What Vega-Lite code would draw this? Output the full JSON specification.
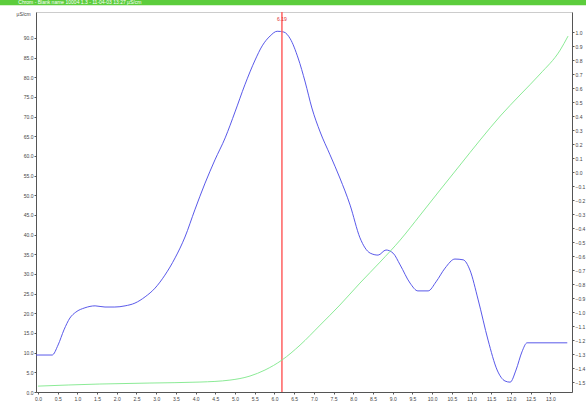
{
  "$schema": "https://vega.github.io/schema/vega-lite/v6.json",
  "width": 536,
  "height": 380,
  "autosize": {"type": "none"},
  "padding": {"left": 36, "top": 12, "right": 14, "bottom": 11},
  "background": "white",
  "config": {
    "view": {"stroke": "#cccccc", "strokeWidth": 1},
    "font": "Liberation Sans",
    "axis": {"labelFontSize": 5, "labelColor": "#444444", "domainColor": "#555555", "tickColor": "#555555", "tickSize": 2, "grid": false, "labelPadding": 1, "labelFont": "Liberation Sans", "labelOverlap": false}
  },
  "datasets": {
    "blue": [
      {"t": -0.05, "v": 9.4}, {"t": 0.36, "v": 9.4}, {"t": 0.51, "v": 11.95}, {"t": 0.66, "v": 15.8},
      {"t": 0.81, "v": 18.8}, {"t": 0.96, "v": 20.3}, {"t": 1.19, "v": 21.4}, {"t": 1.45, "v": 21.9},
      {"t": 1.70, "v": 21.6}, {"t": 1.95, "v": 21.6}, {"t": 2.21, "v": 21.9}, {"t": 2.46, "v": 22.6},
      {"t": 2.72, "v": 24.2}, {"t": 2.97, "v": 26.4}, {"t": 3.22, "v": 29.7}, {"t": 3.48, "v": 34.1},
      {"t": 3.73, "v": 39.4}, {"t": 3.98, "v": 46.3}, {"t": 4.24, "v": 53.1}, {"t": 4.49, "v": 59.0},
      {"t": 4.75, "v": 64.6}, {"t": 5.0, "v": 71.2}, {"t": 5.25, "v": 78.1}, {"t": 5.51, "v": 84.4},
      {"t": 5.69, "v": 88.0}, {"t": 5.89, "v": 90.5}, {"t": 6.07, "v": 91.7}, {"t": 6.24, "v": 91.5},
      {"t": 6.40, "v": 89.8}, {"t": 6.60, "v": 84.9}, {"t": 6.78, "v": 78.8}, {"t": 6.95, "v": 72.2},
      {"t": 7.16, "v": 66.1}, {"t": 7.41, "v": 60.3}, {"t": 7.66, "v": 54.4}, {"t": 7.92, "v": 47.5},
      {"t": 8.17, "v": 39.2}, {"t": 8.43, "v": 35.3}, {"t": 8.63, "v": 34.8}, {"t": 8.83, "v": 36.1},
      {"t": 9.01, "v": 35.3}, {"t": 9.19, "v": 32.3}, {"t": 9.44, "v": 27.7}, {"t": 9.64, "v": 25.7},
      {"t": 9.90, "v": 25.7}, {"t": 10.10, "v": 28.0}, {"t": 10.33, "v": 31.5}, {"t": 10.58, "v": 33.8},
      {"t": 10.79, "v": 33.6}, {"t": 10.96, "v": 31.0}, {"t": 11.17, "v": 23.4}, {"t": 11.42, "v": 13.2},
      {"t": 11.65, "v": 5.6}, {"t": 11.85, "v": 2.8}, {"t": 11.98, "v": 2.5}, {"t": 12.13, "v": 5.6},
      {"t": 12.28, "v": 10.2}, {"t": 12.41, "v": 12.5}, {"t": 13.43, "v": 12.5}
    ],
    "green": [
      {"t": 0.0, "r": -1.529}, {"t": 1.57, "r": -1.514}, {"t": 2.84, "r": -1.507}, {"t": 4.11, "r": -1.5},
      {"t": 4.87, "r": -1.486}, {"t": 5.38, "r": -1.457}, {"t": 5.76, "r": -1.414}, {"t": 6.19, "r": -1.343},
      {"t": 6.65, "r": -1.236}, {"t": 7.16, "r": -1.093}, {"t": 7.66, "r": -0.95}, {"t": 8.17, "r": -0.793},
      {"t": 8.68, "r": -0.643}, {"t": 9.19, "r": -0.486}, {"t": 9.70, "r": -0.307}, {"t": 10.20, "r": -0.129},
      {"t": 10.71, "r": 0.05}, {"t": 11.22, "r": 0.229}, {"t": 11.73, "r": 0.4}, {"t": 12.23, "r": 0.55},
      {"t": 12.74, "r": 0.7}, {"t": 13.25, "r": 0.871}, {"t": 13.45, "r": 0.971}
    ],
    "marker": [{"t": 6.19, "label": "6.19"}]
  },
  "layer": [
    {
      "layer": [
        {
          "data": {"name": "blue"},
          "mark": {"type": "line", "color": "#4646e6", "strokeWidth": 0.9, "interpolate": "monotone"},
          "encoding": {
            "x": {"field": "t", "type": "quantitative", "scale": {"domain": [-0.05, 13.55], "nice": false, "zero": false},
              "axis": {"title": null, "values": [0,0.5,1,1.5,2,2.5,3,3.5,4,4.5,5,5.5,6,6.5,7,7.5,8,8.5,9,9.5,10,10.5,11,11.5,12,12.5,13], "format": ".1f", "labelPadding": 2}},
            "y": {"field": "v", "type": "quantitative", "scale": {"domain": [0, 96.6], "nice": false, "zero": false},
              "axis": {"orient": "left", "title": "µS/cm", "titleAngle": 0, "titleFontSize": 5, "titleFontWeight": "normal", "titleColor": "#444444", "titleX": -20, "titleY": 1, "titleAlign": "left", "titleBaseline": "middle",
                "values": [0,5,10,15,20,25,30,35,40,45,50,55,60,65,70,75,80,85,90], "format": ".1f"}}
          }
        },
        {
          "data": {"name": "marker"},
          "mark": {"type": "rule", "color": "#ff6060", "strokeWidth": 1.5},
          "encoding": {"x": {"field": "t", "type": "quantitative",
              "axis": {"title": null, "values": [0,0.5,1,1.5,2,2.5,3,3.5,4,4.5,5,5.5,6,6.5,7,7.5,8,8.5,9,9.5,10,10.5,11,11.5,12,12.5,13], "format": ".1f", "labelPadding": 2}}}
        },
        {
          "data": {"name": "marker"},
          "mark": {"type": "text", "color": "#e03030", "fontSize": 5, "baseline": "middle", "align": "center"},
          "encoding": {
            "x": {"field": "t", "type": "quantitative",
              "axis": {"title": null, "values": [0,0.5,1,1.5,2,2.5,3,3.5,4,4.5,5,5.5,6,6.5,7,7.5,8,8.5,9,9.5,10,10.5,11,11.5,12,12.5,13], "format": ".1f", "labelPadding": 2}},
            "y": {"datum": 94.7, "type": "quantitative",
              "axis": {"orient": "left", "title": "µS/cm", "titleAngle": 0, "titleFontSize": 5, "titleFontWeight": "normal", "titleColor": "#444444", "titleX": -20, "titleY": 1, "titleAlign": "left", "titleBaseline": "middle",
                "values": [0,5,10,15,20,25,30,35,40,45,50,55,60,65,70,75,80,85,90], "format": ".1f"}},
            "text": {"field": "label"}}
        },
        {
          "data": {"values": [{}]},
          "mark": {"type": "rect", "color": "#5ccd3c"},
          "encoding": {
            "x": {"datum": -1.0, "type": "quantitative",
              "axis": {"title": null, "values": [0,0.5,1,1.5,2,2.5,3,3.5,4,4.5,5,5.5,6,6.5,7,7.5,8,8.5,9,9.5,10,10.5,11,11.5,12,12.5,13], "format": ".1f", "labelPadding": 2}},
            "x2": {"datum": 14.0},
            "y": {"datum": 98.3, "type": "quantitative",
              "axis": {"orient": "left", "title": "µS/cm", "titleAngle": 0, "titleFontSize": 5, "titleFontWeight": "normal", "titleColor": "#444444", "titleX": -20, "titleY": 1, "titleAlign": "left", "titleBaseline": "middle",
                "values": [0,5,10,15,20,25,30,35,40,45,50,55,60,65,70,75,80,85,90], "format": ".1f"}},
            "y2": {"datum": 100.2}}
        },
        {
          "data": {"values": [{}]},
          "mark": {"type": "text", "color": "white", "fontSize": 5, "align": "left", "baseline": "middle"},
          "encoding": {
            "x": {"datum": -0.5, "type": "quantitative",
              "axis": {"title": null, "values": [0,0.5,1,1.5,2,2.5,3,3.5,4,4.5,5,5.5,6,6.5,7,7.5,8,8.5,9,9.5,10,10.5,11,11.5,12,12.5,13], "format": ".1f", "labelPadding": 2}},
            "y": {"datum": 99.2, "type": "quantitative",
              "axis": {"orient": "left", "title": "µS/cm", "titleAngle": 0, "titleFontSize": 5, "titleFontWeight": "normal", "titleColor": "#444444", "titleX": -20, "titleY": 1, "titleAlign": "left", "titleBaseline": "middle",
                "values": [0,5,10,15,20,25,30,35,40,45,50,55,60,65,70,75,80,85,90], "format": ".1f"}},
            "text": {"value": "Chrom - Blank name 10004 1.3 - 11-04-03 13:27 µS/cm"}}
        }
      ]
    },
    {
      "data": {"name": "green"},
      "mark": {"type": "line", "color": "#7ee88a", "strokeWidth": 0.9, "interpolate": "monotone"},
      "encoding": {
        "x": {"field": "t", "type": "quantitative",
          "axis": {"title": null, "values": [0,0.5,1,1.5,2,2.5,3,3.5,4,4.5,5,5.5,6,6.5,7,7.5,8,8.5,9,9.5,10,10.5,11,11.5,12,12.5,13], "format": ".1f", "labelPadding": 2}},
        "y": {"field": "r", "type": "quantitative", "scale": {"domain": [-1.571, 1.143], "nice": false, "zero": false},
          "axis": {"orient": "right", "title": null, "values": [1,0.9,0.8,0.7,0.6,0.5,0.4,0.3,0.2,0.1,0,-0.1,-0.2,-0.3,-0.4,-0.5,-0.6,-0.7,-0.8,-0.9,-1,-1.1,-1.2,-1.3,-1.4,-1.5], "format": ".1f"}}
      }
    }
  ],
  "resolve": {"scale": {"y": "independent"}, "axis": {"y": "independent"}}
}
